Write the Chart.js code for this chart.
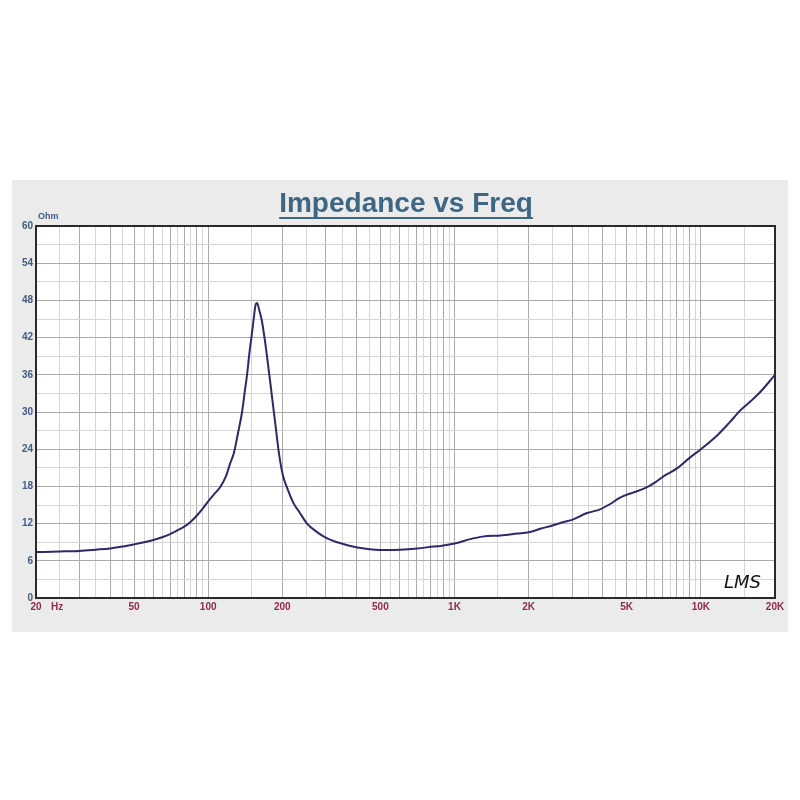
<!DOCTYPE html>
<html>
<head>
<meta charset="utf-8">
<script src="https://cdn.jsdelivr.net/npm/chart.js@4.4.0/dist/chart.umd.min.js"></script>
<style>
  body { margin: 0; background: #ffffff; }
  #panel { position: absolute; left: 12px; top: 180px; width: 776px; height: 452px; background: #ebebeb; }
</style>
</head>
<body>
<div id="panel"><canvas id="zChart" width="776" height="452"></canvas></div>
<script>
// impedance curve
const freqHz = [20, 25, 30, 35, 40, 45, 50, 55, 60, 65, 70, 75, 80, 85, 90, 95, 100, 106, 112, 118,
  123, 127, 132, 137, 141, 144, 147, 150, 153, 156, 158, 161, 165, 170, 174, 179, 184, 189, 194,
  201, 209, 222, 235, 252, 275, 304, 340, 378, 430, 516, 600, 706, 824, 877, 1000, 1160, 1300,
  1540, 1800, 2000, 2250, 2500, 2800, 3000, 3450, 3900, 4300, 4700, 5300, 6000, 6500, 7100,
  8000, 9000, 10000, 11700, 13000, 14500, 16000, 17500, 20000];
const impedanceOhm = [7.4, 7.5, 7.6, 7.8, 8.0, 8.3, 8.65, 9.0, 9.35, 9.8, 10.3, 10.9, 11.5, 12.3, 13.3, 14.4, 15.6, 16.8, 17.9, 19.6,
  21.8, 23.3, 26.5, 29.8, 33.5, 36.2, 39.5, 42.2, 45.0, 47.4, 47.6, 46.5, 44.8, 41.5, 38.4, 34.5, 30.6, 26.8, 23.2,
  19.8, 17.8, 15.3, 13.8, 12.0, 10.7, 9.6, 8.9, 8.4, 8.0, 7.75, 7.8, 8.0, 8.3, 8.4, 8.8, 9.5, 9.9,
  10.1, 10.4, 10.6, 11.2, 11.7, 12.3, 12.6, 13.7, 14.3, 15.2, 16.2, 17.0, 17.8, 18.6, 19.7,
  20.9, 22.6, 24.0, 26.3, 28.2, 30.3, 31.8, 33.3, 36.0];

// vertical grid lines (LMS style: 1.5, then 2..10 in steps of 0.5 per decade)
const freqGrid = [20, 25, 30, 35, 40, 45, 50, 55, 60, 65, 70, 75, 80, 85, 90, 95, 100, 150,
  200, 250, 300, 350, 400, 450, 500, 550, 600, 650, 700, 750, 800, 850, 900, 950, 1000, 1500,
  2000, 2500, 3000, 3500, 4000, 4500, 5000, 5500, 6000, 6500, 7000, 7500, 8000, 8500, 9000, 9500, 10000, 15000, 20000];
const freqLabels = { 20: '20', 50: '50', 100: '100', 200: '200', 500: '500', 1000: '1K', 2000: '2K', 5000: '5K', 10000: '10K', 20000: '20K' };
const ohmTicks = [0, 6, 12, 18, 24, 30, 36, 42, 48, 54, 60];

const titleText = 'Impedance vs Freq';

function isDarkFreq(v) {
  const d = Math.pow(10, Math.floor(Math.log10(v) + 1e-9));
  const m = Math.round(v / d * 10) / 10;
  return Number.isInteger(m);
}

const decorPlugin = {
  id: 'decor',
  beforeDraw(chart) {
    const a = chart.chartArea;
    chart.ctx.save();
    chart.ctx.fillStyle = '#ffffff';
    chart.ctx.fillRect(a.left, a.top, a.right - a.left, a.bottom - a.top);
    chart.ctx.restore();
  },
  afterDraw(chart) {
    const c = chart.ctx;
    const a = chart.chartArea;
    c.save();
    // plot frame
    c.strokeStyle = '#2a2a2a';
    c.lineWidth = 2;
    c.strokeRect(a.left, a.top, a.right - a.left, a.bottom - a.top);

    // title with underline
    c.font = 'bold 28px "Liberation Sans", Arial, sans-serif';
    c.fillStyle = '#3d6784';
    c.textAlign = 'center';
    c.textBaseline = 'middle';
    const tx = 394, ty = 24;
    c.fillText(titleText, tx, ty);
    const w = c.measureText(titleText).width;
    c.fillRect(tx - w / 2, ty + 13, w, 2);

    // unit labels
    c.font = 'bold 9px "Liberation Sans", Arial, sans-serif';
    c.fillStyle = '#3e5b85';
    c.textAlign = 'left';
    c.fillText('Ohm', a.left + 2, a.top - 9);
    c.font = 'bold 10px "Liberation Sans", Arial, sans-serif';
    c.fillStyle = '#8c2a4c';
    c.fillText('Hz', a.left + 15, a.bottom + 9);

    // LMS mark
    c.font = 'italic 18px "DejaVu Sans", sans-serif';
    c.fillStyle = '#111111';
    c.textAlign = 'right';
    c.fillText('LMS', a.right - 14, a.bottom - 15);
    c.restore();
  }
};

new Chart(document.getElementById('zChart').getContext('2d'), {
  type: 'line',
  data: {
    datasets: [{
      data: freqHz.map((f, i) => ({ x: f, y: impedanceOhm[i] })),
      borderColor: '#2c2a68',
      borderWidth: 2,
      pointRadius: 0,
      cubicInterpolationMode: 'monotone',
      fill: false
    }]
  },
  options: {
    responsive: false,
    animation: false,
    layout: { padding: { top: 46, right: 13, left: 0, bottom: 0 } },
    plugins: {
      legend: { display: false },
      tooltip: { enabled: false }
    },
    scales: {
      x: {
        type: 'logarithmic',
        min: 20,
        max: 20000,
        afterBuildTicks: axis => { axis.ticks = freqGrid.map(v => ({ value: v })); },
        afterFit: axis => { axis.height = 34; },
        border: { display: false },
        grid: {
          drawTicks: false,
          color: ctx => (ctx.tick && isDarkFreq(ctx.tick.value)) ? '#aaaaaa' : '#d6d6d6',
          lineWidth: 1
        },
        ticks: {
          autoSkip: false,
          maxRotation: 0,
          padding: 3,
          color: '#8c2a4c',
          font: { family: '"Liberation Sans", Arial, sans-serif', size: 10, weight: 'bold' },
          callback: value => freqLabels[value] || ''
        }
      },
      y: {
        min: 0,
        max: 60,
        afterBuildTicks: axis => {
          const t = [];
          for (let v = 0; v <= 60; v += 3) t.push({ value: v });
          axis.ticks = t;
        },
        afterFit: axis => { axis.width = 24; },
        border: { display: false },
        grid: {
          drawTicks: false,
          color: ctx => (ctx.tick && ctx.tick.value % 6 === 0) ? '#aaaaaa' : '#d6d6d6',
          lineWidth: 1
        },
        ticks: {
          autoSkip: false,
          padding: 3,
          color: '#3e5b85',
          font: { family: '"Liberation Sans", Arial, sans-serif', size: 10, weight: 'bold' },
          callback: value => ohmTicks.includes(value) ? String(value) : ''
        }
      }
    }
  },
  plugins: [decorPlugin]
});
</script>
</body>
</html>
